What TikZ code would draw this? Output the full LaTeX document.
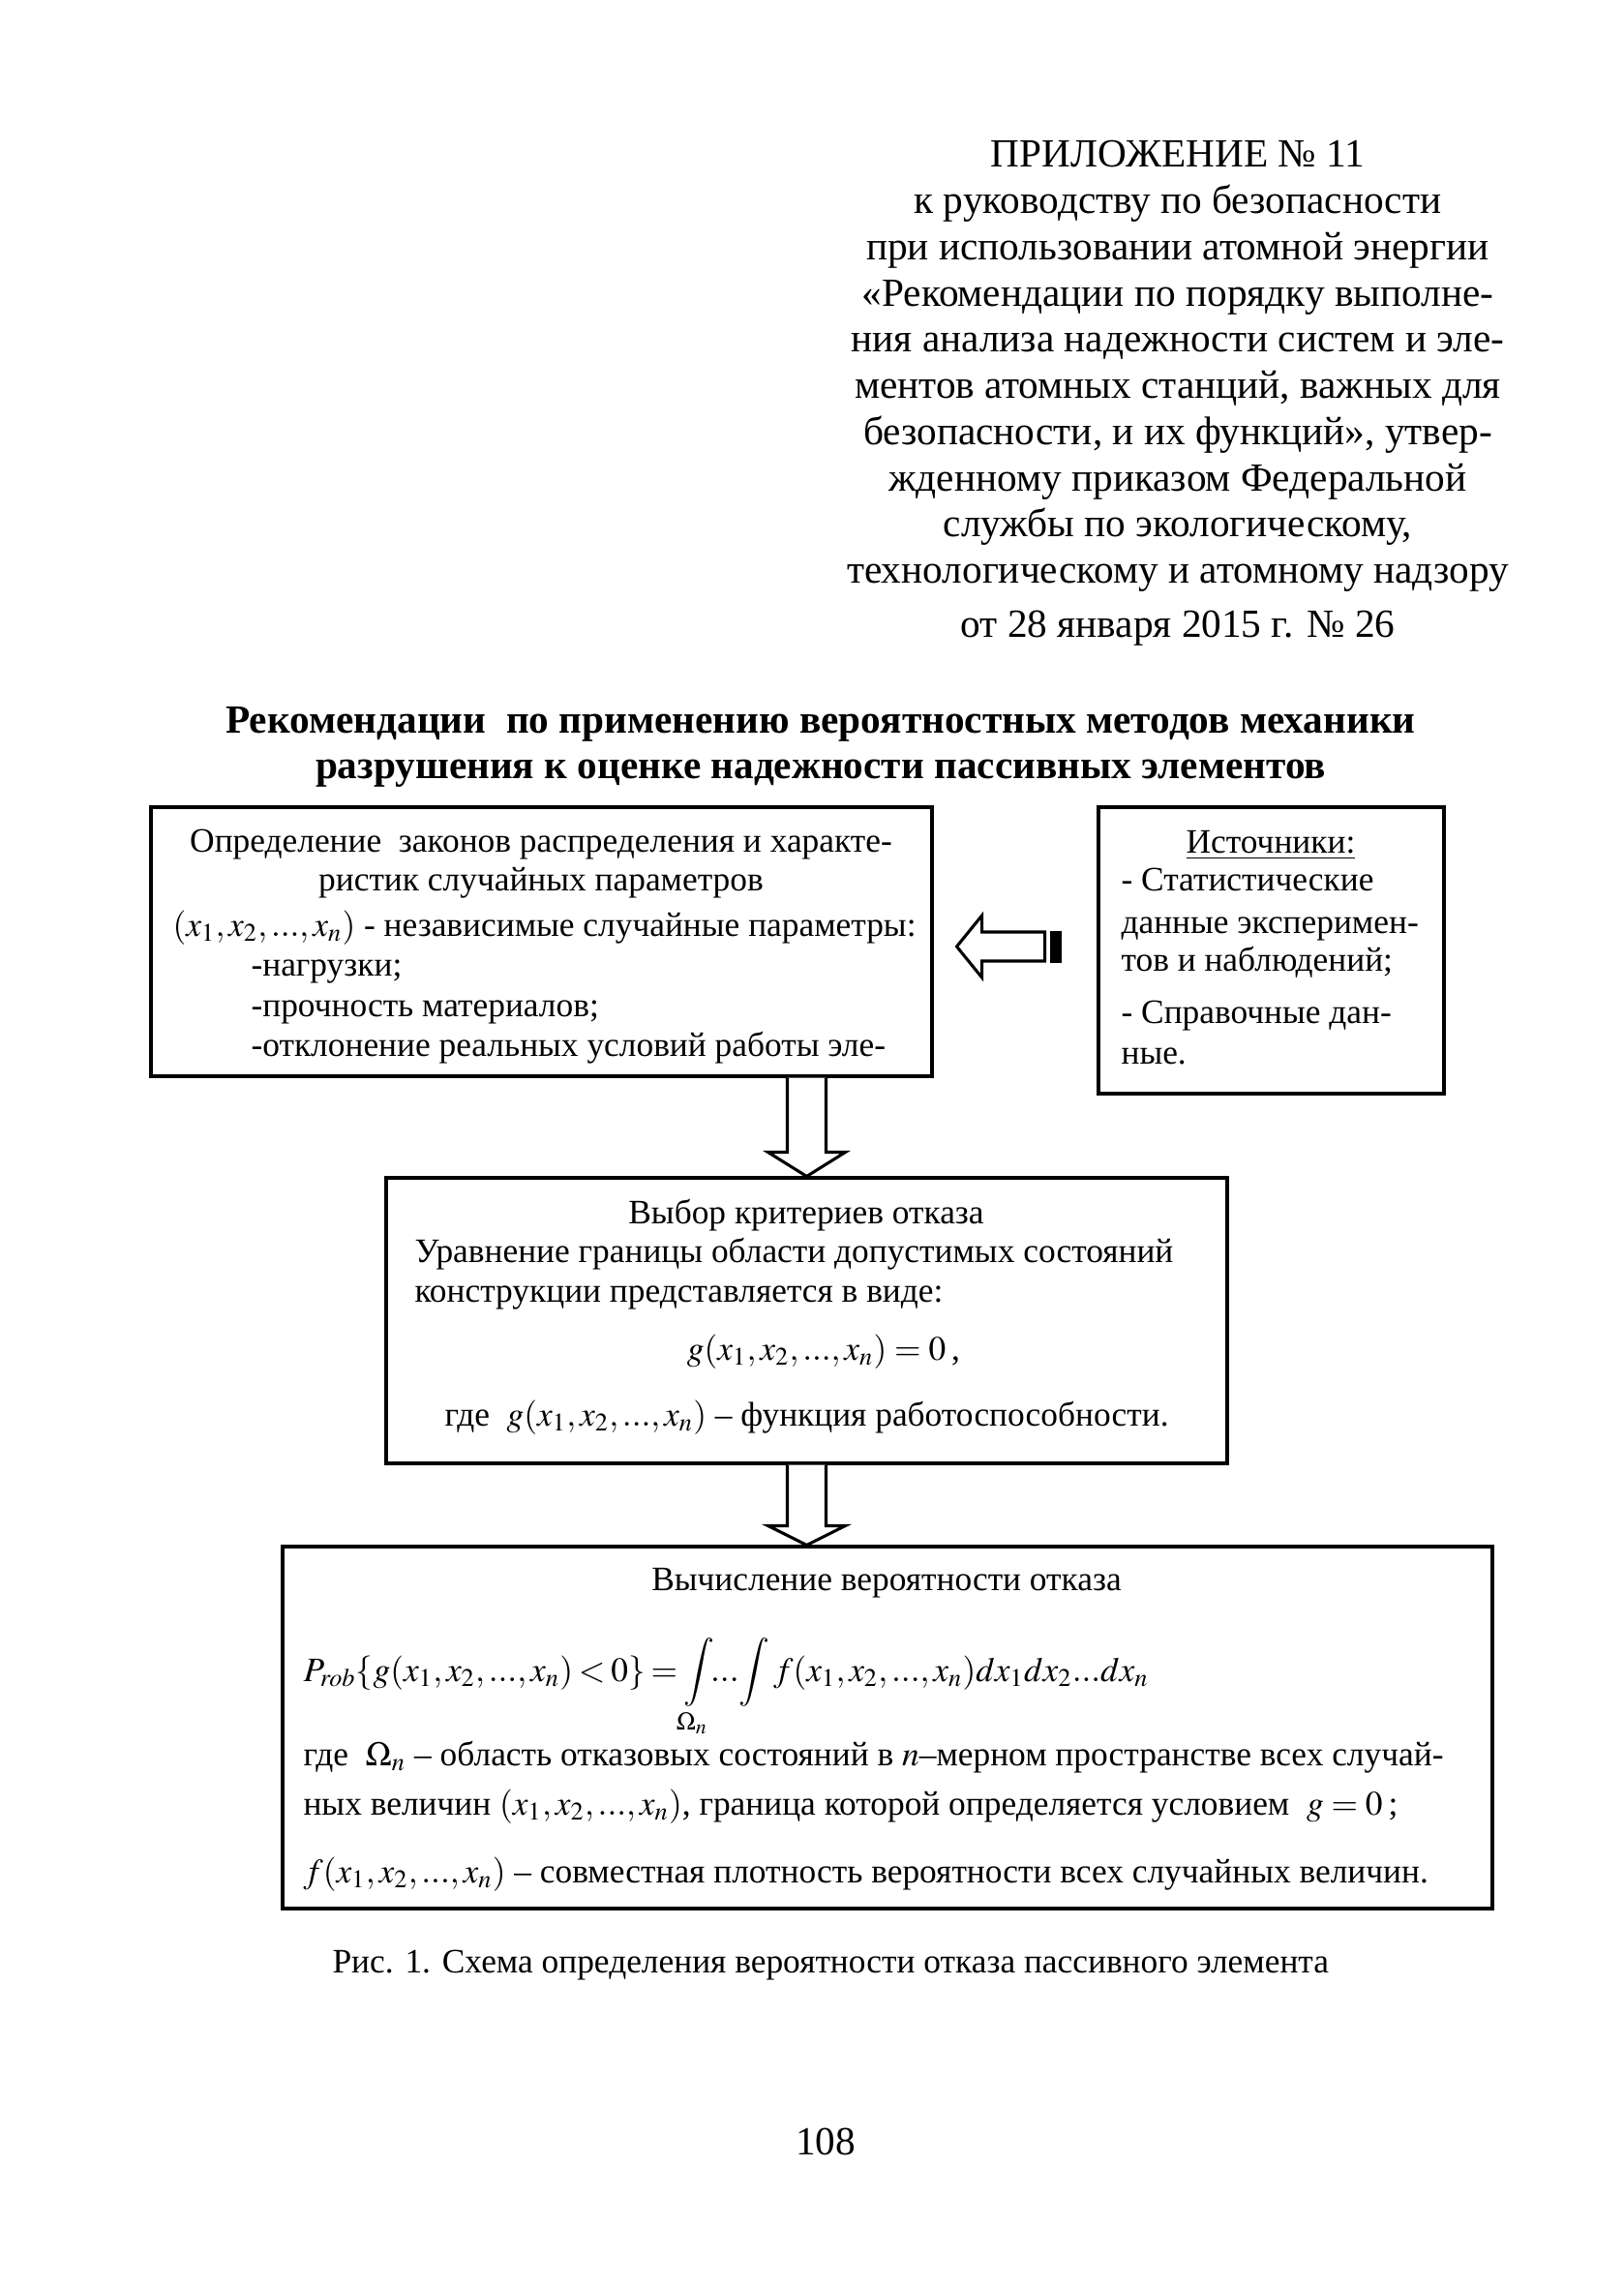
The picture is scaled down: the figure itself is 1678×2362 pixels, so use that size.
\documentclass[tikz,border=0pt]{standalone}
\usepackage{mathptmx}
\usepackage{fontspec}
\setmainfont{Liberation Serif}
\usetikzlibrary{calc,fit,positioning}

\begin{document}
\begin{tikzpicture}[x=0.12515mm,y=-0.12515mm,
  box/.style={draw,line width=1.1pt,inner sep=0pt},
  txt/.style={inner sep=0pt,font=\fontsize{12.6}{15}\selectfont},
  big/.style={inner sep=0pt,font=\fontsize{14.7}{17}\selectfont},
  hollow/.style={draw,line width=1.1pt,fill=white,line join=miter}]
\useasboundingbox (0,0) rectangle (1678,2362);

% header of the appendix
\node[big,align=center,anchor=north] (hdr) at (1217,145) {ПРИЛОЖЕНИЕ № 11\\
к руководству по безопасности\\
при использовании атомной энергии\\
«Рекомендации по порядку выполне-\\
ния анализа надежности систем и эле-\\
ментов атомных станций, важных для\\
безопасности, и их функций», утвер-\\
жденному приказом Федеральной\\
службы по экологическому,\\
технологическому и атомному надзору\\[3pt]
от 28 января 2015 г. № 26};

\node[big,font=\fontsize{14.7}{17}\selectfont\bfseries,align=center] (ttl) at (848,772)
  {Рекомендации\ \ по применению вероятностных методов механики\\
   разрушения к оценке надежности пассивных элементов};

% boxes
\node[box,fit={(156,834) (963,1112)}] (prm) {};
\node[box,fit={(1135,834) (1492,1130)}] (src) {};
\node[box,fit={(399,1217) (1268,1512)}] (crit) {};
\node[box,fit={(292,1598) (1542,1972)}] (prob) {};

% random parameters
\node[txt,anchor=base] (p1) at (559,880) {Определение\ \ законов распределения и характе-};
\node[txt,anchor=base] (p2) at (559,920) {ристик случайных параметров};
\node[txt,anchor=base west] (p3) at (178,967) {$(x_1,x_2,...,x_n)$ - независимые случайные параметры:};
\node[txt,anchor=base west] (p4) at (259,1008) {-нагрузки;};
\node[txt,anchor=base west] (p5) at (259,1050) {-прочность материалов;};
\node[txt,anchor=base west] (p6) at (259,1091) {-отклонение реальных условий работы эле-};

% sources
\node[txt,anchor=base] (s0) at (1313,881) {\underline{Источники:}};
\node[txt,anchor=base west] (s1) at (1158,920) {- Статистические};
\node[txt,anchor=base west] (s2) at (1158,964) {данные эксперимен-};
\node[txt,anchor=base west] (s3) at (1158,1003) {тов и наблюдений;};
\node[txt,anchor=base west] (s4) at (1158,1057) {- Справочные дан-};
\node[txt,anchor=base west] (s5) at (1158,1099) {ные.};

% failure criteria
\node[txt,anchor=base] (c1) at (833,1264) {Выбор критериев отказа};
\node[txt,anchor=base west] (c2) at (428,1304) {Уравнение границы области допустимых состояний};
\node[txt,anchor=base west] (c3) at (428,1345) {конструкции представляется в виде:};
\node[txt,anchor=base] (c4) at (851,1405) {$g(x_1,x_2,...,x_n)=0$\,,};
\node[txt,anchor=base west] (c5) at (459,1473) {где\ \ $g(x_1,x_2,...,x_n)$ -- функция работоспособности.};

% failure probability
\node[txt,anchor=base] (q1) at (916,1643) {Вычисление вероятности отказа};
\node[txt,anchor=base west] (q2) at (313,1737)
  {$\medmuskip=2mu\thickmuskip=3mu P_{rob}\{g(x_1,x_2,...,x_n)<0\}=\displaystyle\int\limits_{\Omega_n}\!\!...\!\int f(x_1,x_2,...,x_n)dx_1dx_2...dx_n$};
\node[txt,anchor=base west] (q3) at (313,1824) {где\ \ $\Omega_n$ -- область отказовых состояний в $n$--мерном пространстве всех случай-};
\node[txt,anchor=base west] (q4) at (313,1875) {ных величин $(x_1,x_2,...,x_n)$, граница которой определяется условием\ \ $g=0$\,;};
\node[txt,anchor=base west] (q5) at (313,1945) {$f(x_1,x_2,...,x_n)$ -- совместная плотность вероятности всех случайных величин.};

% hollow arrows
\coordinate (t1) at (crit.north);
\coordinate (b1) at (prm.south -| crit.north);
\draw[hollow] ($(b1)+(-20,0)$) -- ($(t1)+(-20,-25)$) -- ($(t1)+(-40,-25)$) -- (t1)
  -- ($(t1)+(40,-25)$) -- ($(t1)+(20,-25)$) -- ($(b1)+(20,0)$);
\coordinate (t2) at (prob.north -| crit.south);
\coordinate (b2) at (crit.south);
\draw[hollow] ($(b2)+(-20,0)$) -- ($(t2)+(-20,-20)$) -- ($(t2)+(-40,-20)$) -- (t2)
  -- ($(t2)+(40,-20)$) -- ($(t2)+(20,-20)$) -- ($(b2)+(20,0)$);
\coordinate (lt) at ($(prm.east)+(24,5)$);
\draw[hollow] (lt) -- ++(26,-32) -- ++(0,17) -- ++(65,0) -- ++(0,30) -- ++(-65,0) -- ++(0,17) -- cycle;
\fill ($(lt)+(96,-16)$) rectangle ($(lt)+(108,17)$);

\node[txt,anchor=base west] (cap) at (343,2038) {Рис. 1. Схема определения вероятности отказа пассивного элемента};
\node[big,anchor=base] (pg) at (853,2226) {108};
\end{tikzpicture}
\end{document}
